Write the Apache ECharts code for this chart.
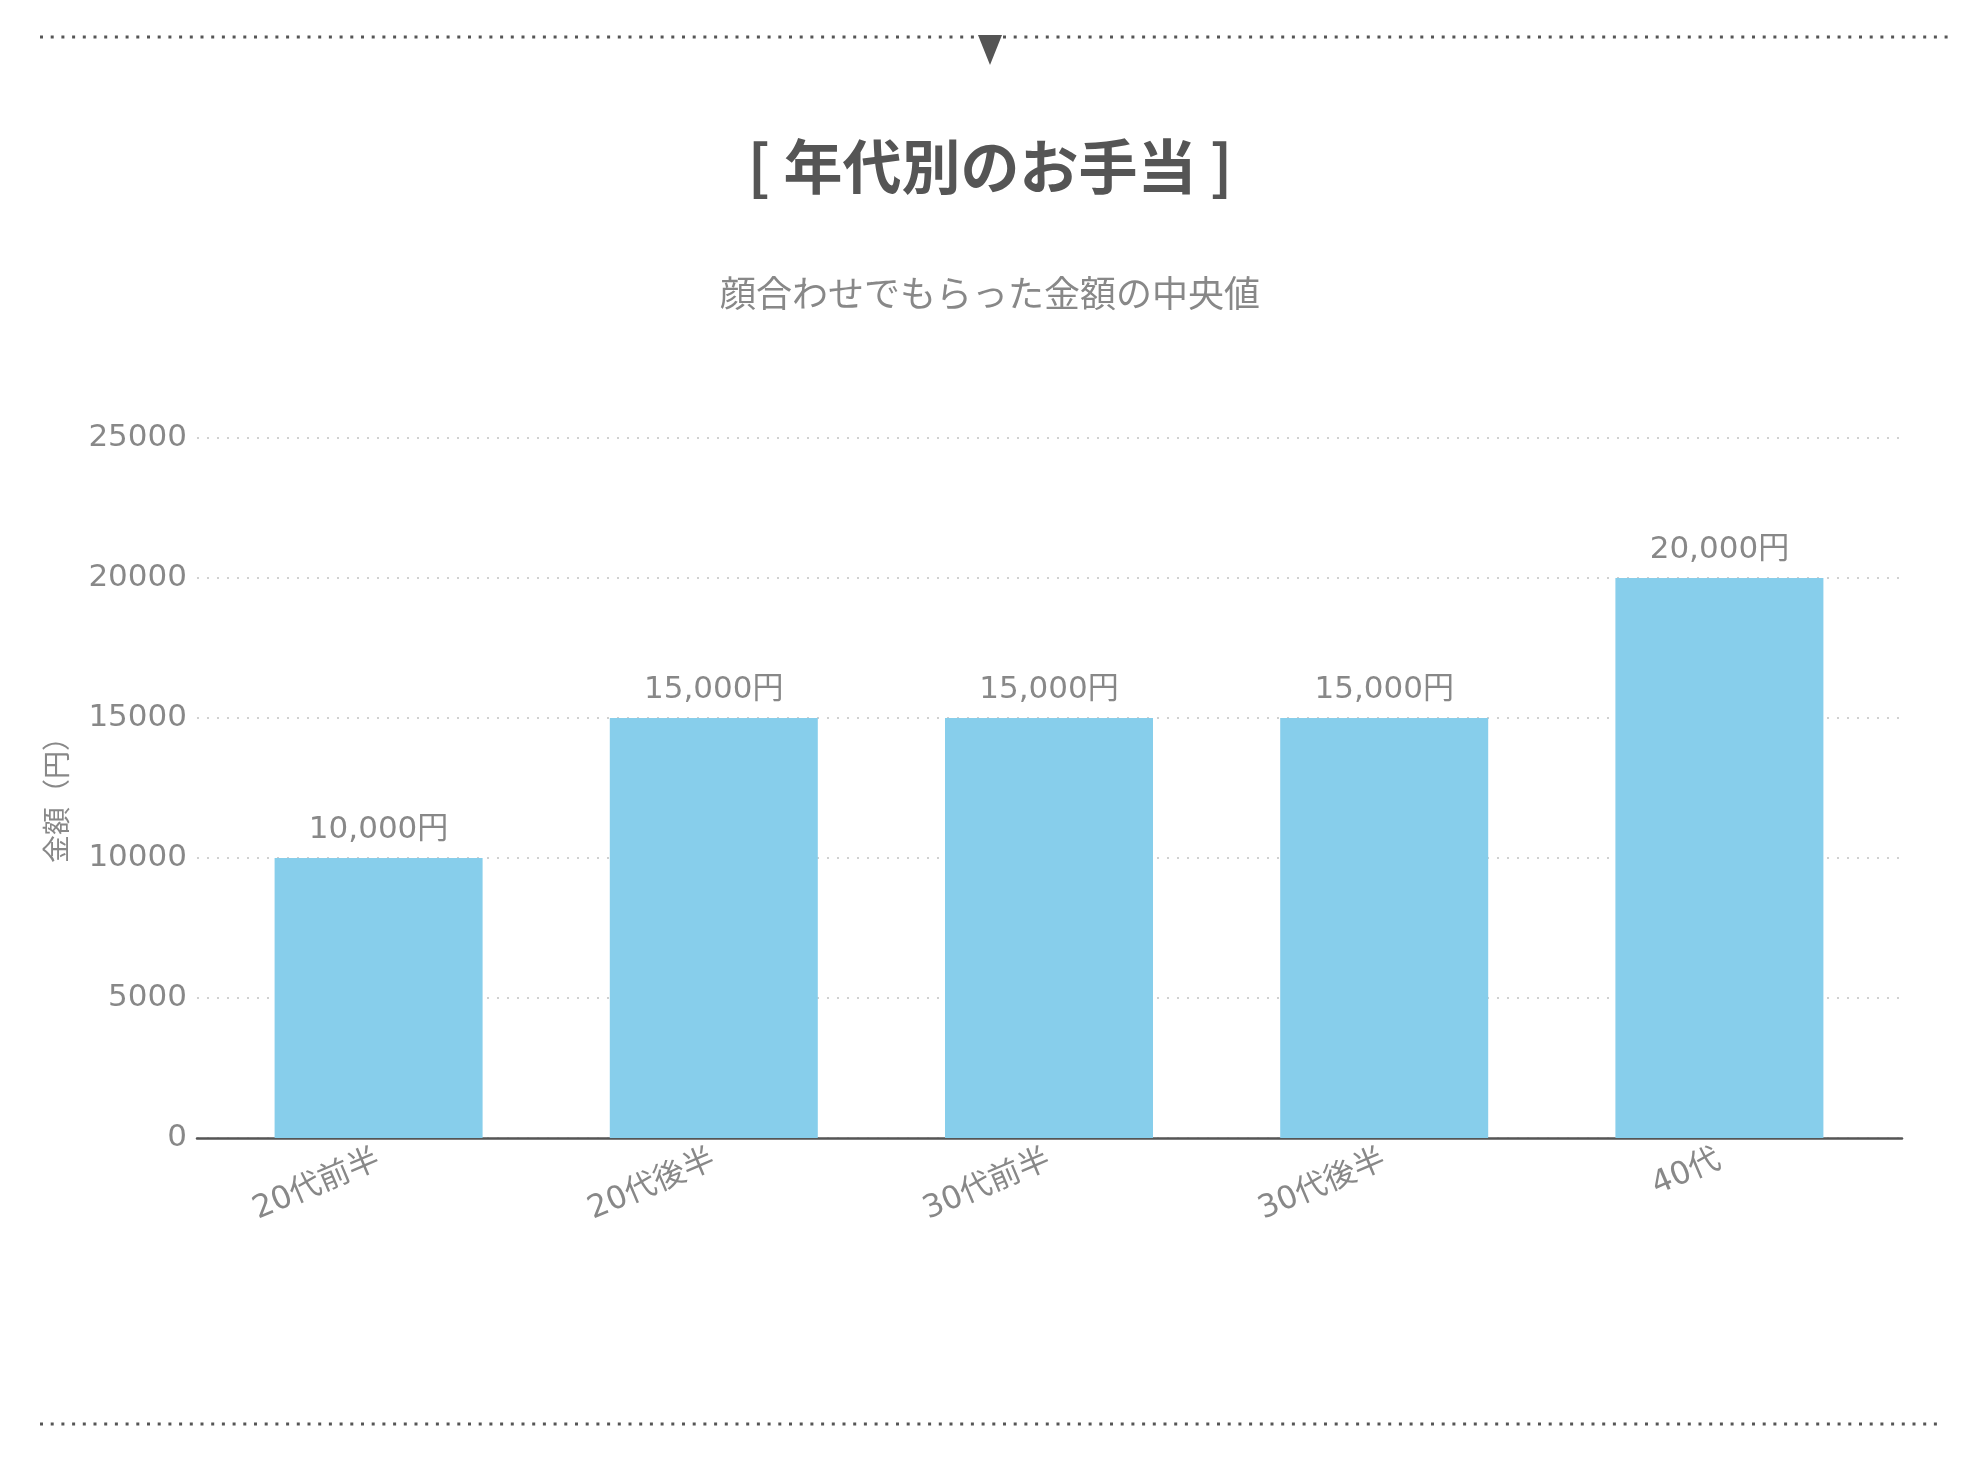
<!DOCTYPE html>
<html>
<head>
<meta charset="utf-8">
<script src="https://cdn.jsdelivr.net/npm/echarts@6/dist/echarts.min.js"></script>
<style>
html,body{margin:0;padding:0;background:#fff;}
#chart{width:1980px;height:1460px;}
</style>
</head>
<body>
<div id="chart"></div>
<script>
const titleText = '[ 年代別のお手当 ]';
const subtitleText = '顔合わせでもらった金額の中央値';
const categories = ['20代前半', '20代後半', '30代前半', '30代後半', '40代'];
const amounts = [10000, 15000, 15000, 15000, 20000];
const yAxisName = '金額（円）';
const yMin = 0, yMax = 25000, yStep = 5000;

const FONT = '"Noto Sans CJK JP", "Noto Sans", sans-serif';
const NUMFONT = '"DejaVu Sans", "Noto Sans CJK JP", sans-serif';
const chart = echarts.init(document.getElementById('chart'));

function dottedLine(y, x1, x2) {
  return {
    type: 'line', silent: true,
    shape: { x1: x1, y1: y, x2: x2, y2: y },
    style: { stroke: '#555', lineWidth: 3, lineDash: [3, 7.7] }
  };
}

const option = {
  backgroundColor: '#fff',
  textStyle: { fontFamily: FONT },
  title: [
    { text: titleText, left: 'center', top: 132,
      textStyle: { fontSize: 59, fontWeight: 'bold', color: '#555', fontFamily: FONT } },
    { text: subtitleText, left: 'center', top: 270,
      textStyle: { fontSize: 36, fontWeight: 'normal', color: '#888', fontFamily: FONT } }
  ],
  graphic: [
    dottedLine(37, 40, 1950),
    dottedLine(1424, 40, 1942),
    { type: 'polygon', silent: true,
      shape: { points: [[978, 35], [1002, 35], [990, 65]] },
      style: { fill: '#555' } }
  ],
  grid: [
    { left: 197, right: 78, top: 438, bottom: 322, containLabel: false },
    { left: 211, right: 93, top: 438, bottom: 322, containLabel: false }
  ],
  xAxis: [
    { type: 'category', gridIndex: 0, data: categories,
      axisLine: { show: true, lineStyle: { color: '#555', width: 2.5 } },
      axisTick: { show: false }, axisLabel: { show: false }, splitLine: { show: false } },
    { type: 'category', gridIndex: 1, data: categories,
      axisLine: { show: false }, axisTick: { show: false },
      axisLabel: { rotate: 23, margin: 21, fontSize: 31.5, color: '#888', fontFamily: NUMFONT } }
  ],
  yAxis: [
    { type: 'value', gridIndex: 0, min: yMin, max: yMax, interval: yStep,
      name: yAxisName, nameLocation: 'middle', nameGap: 127, nameRotate: 90,
      nameTextStyle: { fontSize: 28, color: '#888', fontFamily: FONT, padding: [0, 10, 0, 0] },
      axisLine: { show: false }, axisTick: { show: false },
      axisLabel: { fontSize: 31, color: '#888', margin: 10, fontFamily: NUMFONT,
        padding: [5, 0, 0, 0], formatter: v => String(v) },
      splitLine: { show: true, lineStyle: { color: '#d0d0d0', width: 2, type: [2, 8] } } },
    { type: 'value', gridIndex: 1, min: yMin, max: yMax, interval: yStep, show: false,
      splitLine: { show: false } }
  ],
  series: [
    { type: 'bar', xAxisIndex: 1, yAxisIndex: 1, data: amounts,
      barWidth: 208,
      itemStyle: { color: '#87CEEB' },
      label: { show: true, position: 'top', distance: 13, fontSize: 31, color: '#888',
        fontFamily: NUMFONT,
        formatter: p => p.value.toLocaleString('en-US') + '円' } }
  ]
};
chart.setOption(option);
</script>
</body>
</html>
